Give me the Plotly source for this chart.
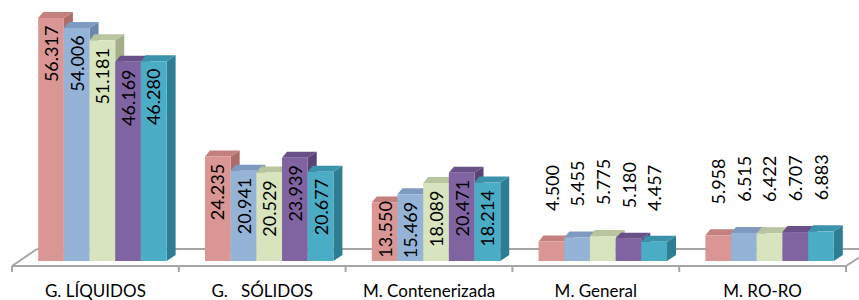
import plotly.graph_objects as go

# ---------------- data ----------------
categories = ["G. LÍQUIDOS", "G.\u00a0\u00a0 SÓLIDOS", "M. Contenerizada", "M. General", "M. RO-RO"]
series_1 = [56.317, 24.235, 13.550, 4.500, 5.958]
series_2 = [54.006, 20.941, 15.469, 5.455, 6.515]
series_3 = [51.181, 20.529, 18.089, 5.775, 6.422]
series_4 = [46.169, 23.939, 20.471, 5.180, 6.707]
series_5 = [46.280, 20.677, 18.214, 4.457, 6.883]
series = [series_1, series_2, series_3, series_4, series_5]

# ---------------- styles ----------------
front_colors = ["#D99694", "#95B3D7", "#D7E4BD", "#8064A2", "#4BACC6"]
top_colors = ["#C3807E", "#7F9AC0", "#B9C59F", "#6A5089", "#3A93AB"]
side_colors = ["#AC6C6A", "#6C87AC", "#A3AE8A", "#5A4375", "#2E7E93"]

W, H = 859, 300
ML, MR, MT, MB = 19, 6, 0, 39
Y_MAX = 60.5
BAR_W = 0.154
FONT = "Lato"
ROT_FIX_OUT = 12   # compensation for rotated-annotation anchoring (px)

plot_w = W - ML - MR
plot_h = H - MT - MB
px_x = plot_w / len(categories)      # px per x unit
px_y = plot_h / Y_MAX                # px per y unit

# 3D depth offsets (pixels -> data units)
dxr = 9 / px_x
dxl = 5 / px_x
dy = 6 / px_y


def fmt(v):
    return f"{v:.3f}"


def px2paper(px, py):
    return (px - ML) / plot_w, (H - MB - py) / plot_h


fig = go.Figure()
shapes = []

# floor (decoration)
floor_col = "#A6A6A6"
shift = -7
def fx(k):
    return ML + k * px_x + shift

front_y = H - MB + 5
back_y = H - MB - 12
x_left = fx(0)
x_right = fx(len(categories))
segs = [
    ((x_left, front_y), (x_right, front_y)),
    ((x_left, front_y), (x_left + 25, back_y)),
    ((x_left + 25, back_y), (W + 5, back_y)),
    ((x_right, front_y), (x_right + 14, front_y - 9)),
]
for k in range(len(categories) + 1):
    segs.append(((fx(k), front_y), (fx(k), front_y + 6)))
for (a, b) in segs:
    x0, y0 = px2paper(*a)
    x1, y1 = px2paper(*b)
    shapes.append(dict(type="line", xref="paper", yref="paper", x0=x0, y0=y0, x1=x1, y1=y1,
                       line=dict(color=floor_col, width=2), layer="below"))

annotations = []
n = len(series)
for i in range(len(categories)):
    for j in range(n):
        v = series[j][i]
        xc = i + (j - (n - 1) / 2) * BAR_W
        xl, xr = xc - BAR_W / 2, xc + BAR_W / 2
        # side face
        shapes.append(dict(type="path", xref="x", yref="y", layer="below",
                           path=f"M {xr},0 L {xr + dxr},{dy} L {xr + dxr},{v + dy} L {xr},{v} Z",
                           fillcolor=side_colors[j], line=dict(width=0)))
        # top face
        shapes.append(dict(type="path", xref="x", yref="y", layer="below",
                           path=f"M {xl},{v} L {xr},{v} L {xr + dxr},{v + dy} L {xl + dxl},{v + dy} Z",
                           fillcolor=top_colors[j], line=dict(width=0)))

for j in range(n):
    xs = [i + (j - (n - 1) / 2) * BAR_W for i in range(len(categories))]
    fig.add_trace(go.Bar(x=xs, y=series[j], width=BAR_W, marker=dict(color=front_colors[j], line=dict(width=0)),
                         showlegend=False, hoverinfo="skip"))
    for xv, v in zip(xs, series[j]):
        h = v * px_y
        inside = h > 50
        if inside:
            gap = min(6, h - 61)
            ys = -gap
        else:
            ys = 17 + ROT_FIX_OUT
        annotations.append(dict(x=xv, y=v, xref="x", yref="y", text=fmt(v), textangle=-90,
                                showarrow=False, font=dict(family=FONT, size=18, color="#000000"),
                                xanchor="center", yanchor="top" if inside else "bottom",
                                yshift=ys))

fig.update_layout(
    width=W, height=H,
    margin=dict(l=ML, r=MR, t=MT, b=MB),
    barmode="overlay",
    paper_bgcolor="white", plot_bgcolor="rgba(0,0,0,0)",
    shapes=shapes, annotations=annotations,
    showlegend=False,
    xaxis=dict(range=[-0.5, len(categories) - 0.5], tickvals=list(range(len(categories))), ticktext=categories,
               showgrid=False, zeroline=False, showline=False, ticks="",
               tickfont=dict(family=FONT, size=17, color="#000000"),
               ticklabelshift=-7, ticklabelstandoff=18),
    yaxis=dict(range=[0, Y_MAX], visible=False),
)

fig.write_html("out.html", config={"displayModeBar": False},
               post_script="document.body.style.margin='0';document.body.style.padding='0';")
